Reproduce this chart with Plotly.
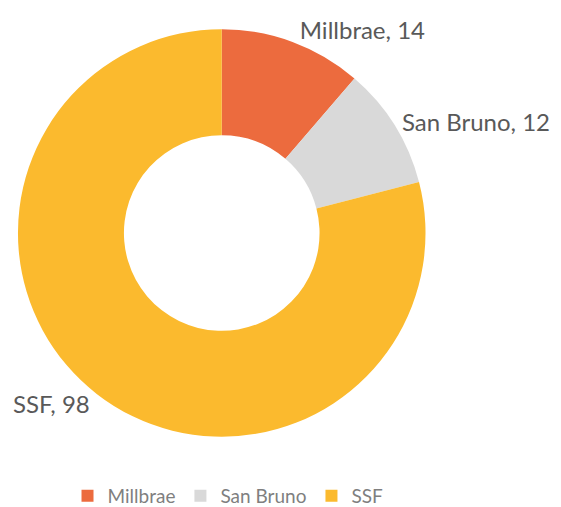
import plotly.graph_objects as go

labels = ["Millbrae", "San Bruno", "SSF"]
values = [14, 12, 98]
colors = ["#EC6B3E", "#D9D9D9", "#FBBA2E"]

W, H = 561, 507
x0, x1, y0, y1 = 8, 417, 20, 430

fig = go.Figure(go.Pie(
    labels=labels,
    values=values,
    hole=0.48,
    sort=False,
    direction="clockwise",
    rotation=0,
    marker=dict(colors=colors, line=dict(color="white", width=0)),
    texttemplate="%{label}, %{value}",
    textposition="outside",
    textfont=dict(family="Lato, Open Sans, sans-serif", size=24, color="#595959"),
    domain=dict(x=[x0/W, x1/W], y=[1-y1/H, 1-y0/H]),
    showlegend=True,
))

fig.update_layout(
    width=W, height=H,
    margin=dict(l=0, r=0, t=0, b=0),
    paper_bgcolor="white",
    plot_bgcolor="white",
    legend=dict(
        orientation="h",
        x=0.39, xanchor="center",
        y=0.0, yanchor="bottom",
        font=dict(family="Lato, Open Sans, sans-serif", size=19, color="#7F7F7F"),
    ),
)

fig.write_html("out.html")
